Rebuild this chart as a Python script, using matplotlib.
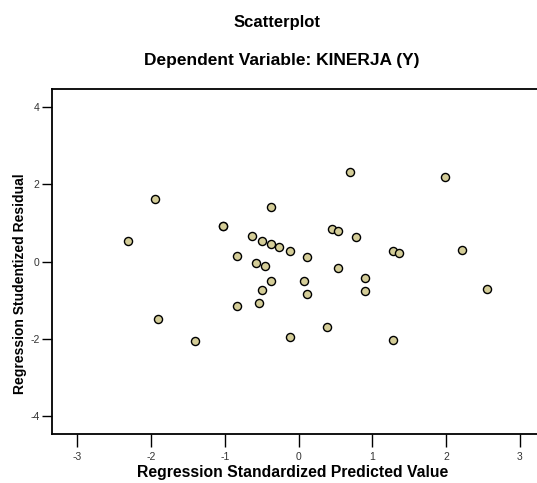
import numpy as np
import matplotlib.pyplot as plt

# predicted (standardized) vs studentized residual
pred = [-2.31, -1.94, -1.90, -1.40, -1.03, -1.03, -0.83, -0.83, -0.63, -0.58,
        -0.53, -0.50, -0.50, -0.45, -0.38, -0.38, -0.38, -0.26, -0.12, -0.12,
        0.08, 0.12, 0.12, 0.38, 0.45, 0.53, 0.53, 0.70, 0.78, 0.90,
        0.90, 1.28, 1.28, 1.36, 1.99, 2.22, 2.55]
resid = [0.54, 1.61, -1.48, -2.06, 0.92, 0.93, 0.15, -1.14, 0.65, -0.04,
         -1.06, 0.54, -0.73, -0.11, 1.42, 0.46, -0.50, 0.37, 0.28, -1.94,
         -0.50, 0.12, -0.84, -1.70, 0.85, 0.79, -0.17, 2.31, 0.63, -0.43,
         -0.75, 0.28, -2.02, 0.22, 2.19, 0.29, -0.70]

xticks = [-3, -2, -1, 0, 1, 2, 3]
yticks = [-4, -2, 0, 2, 4]

plt.rcParams['font.family'] = ['Liberation Sans', 'DejaVu Sans']
plt.rcParams['axes.unicode_minus'] = False

W, H = 537, 483
fig = plt.figure(figsize=(W / 100, H / 100), dpi=100)
ax = fig.add_axes([52 / W, 1 - 434.3 / H, 1 - 52 / W, (434.3 - 89) / H])

ax.scatter(pred, resid, s=34, facecolor='#d4cd98', edgecolor='black',
           linewidth=1.0, zorder=3)

ax.set_xlim(-3.34, 3.23)
ax.set_ylim(-4.46, 4.46)
ax.set_xticks(xticks)
ax.set_yticks(yticks)
ax.tick_params(axis='both', direction='out', labelsize=7.5, colors='black',
               labelcolor='#333333', width=1.0)
ax.tick_params(axis='x', length=9, pad=4)
ax.tick_params(axis='y', length=7, pad=2)

for side in ['left', 'bottom', 'top']:
    ax.spines[side].set_linewidth(1.3)
ax.spines['right'].set_visible(False)

# axis labels and titles placed as in the SPSS output
fig.text(293 / W, 1 - 472.5 / H, 'Regression Standardized Predicted Value',
         ha='center', va='center', fontsize=11.3, fontweight='bold')
fig.text(20 / W, 1 - 284 / H, 'Regression Studentized Residual',
         ha='center', va='center', rotation=90, fontsize=10,
         fontweight='bold')
fig.text(277 / W, 1 - 22 / H, 'Scatterplot', ha='center', va='center',
         fontsize=12, fontweight='bold')
fig.text(282 / W, 1 - 60 / H, 'Dependent Variable: KINERJA (Y)',
         ha='center', va='center', fontsize=12.5, fontweight='bold')

plt.savefig('out.png', dpi=100)
